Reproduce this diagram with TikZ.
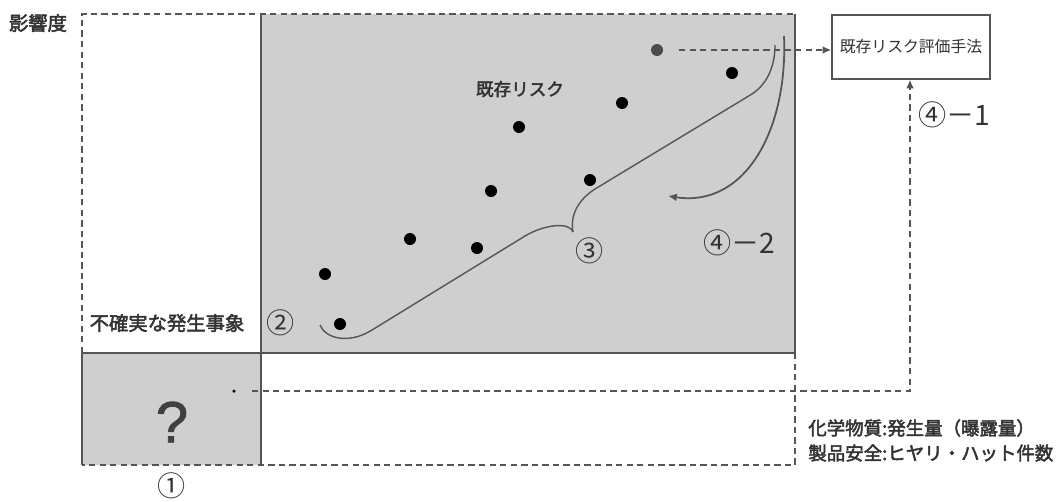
\documentclass[tikz,border=0pt]{standalone}
\usepackage{fontspec}
\setmainfont{Noto Sans CJK JP}
\newfontfamily\medfont{Noto Sans CJK JP}[FakeBold=2.5]
\newfontfamily\qfont{Liberation Sans}[FakeBold=1.5]
\usetikzlibrary{arrows.meta}
\definecolor{fillg}{HTML}{CFCFCF}
\definecolor{lineg}{HTML}{555555}
\definecolor{txt}{HTML}{333333}
\tikzset{
  dashline/.style={draw=lineg, line width=0.9pt, dash pattern=on 3.6pt off 2.4pt},
  solidline/.style={draw=lineg, line width=0.8pt},
  dotnode/.style={circle, fill=black, inner sep=0pt, minimum size=0.24cm},
  lbl/.style={text=txt, inner sep=0pt},
  circnum/.style={text=txt, inner sep=0pt, font=\fontsize{16}{18}\selectfont},
  tip/.style={-{Latex[length=5pt,width=4.5pt]}}
}
\begin{document}
\begin{tikzpicture}[x=0.02cm,y=-0.02cm]
\useasboundingbox (0,0) rectangle (1060,501);
% gray areas
\fill[fillg] (261,14) rectangle (795,353);
\fill[fillg] (82,353) rectangle (261,465);
% solid borders
\draw[solidline] (261,14) -- (261,465);
\draw[solidline] (82,353) -- (795,353) -- (795,14);
\draw[solidline] (82,353) -- (82,465);
% outer dashed frame
\draw[dashline] (82,353) -- (82,14) -- (795,14);
\draw[dashline] (795,353) -- (795,465) -- (82,465);
% labels
\node[lbl, font=\medfont\fontsize{11}{13}\selectfont] (yaxis) at (38,23) {影響度};
\node[lbl, font=\medfont\fontsize{10}{12}\selectfont] (exist) at (520,89) {既存リスク};
\node[lbl, font=\medfont\fontsize{11}{13}\selectfont] (uncert) at (167,323) {不確実な発生事象};
\node[lbl, font=\qfont\fontsize{33}{35}\selectfont, text=black!75] (q) at (172,422) {?};
\node[circnum] (n1) at (172,486) {①};
\node[circnum] (n2) at (281,323) {②};
\node[circnum] (n3) at (590,251) {③};
\node[circnum, anchor=west] (n42) at (703,243) {④－2};
\node[circnum, anchor=west] (n41) at (918,115) {④－1};
\node[lbl, anchor=west, font=\medfont\fontsize{10.5}{12}\selectfont] (t1) at (808,428) {化学物質:発生量（曝露量）};
\node[lbl, anchor=west, font=\medfont\fontsize{10.5}{12}\selectfont] (t2) at (808,453) {製品安全:ヒヤリ・ハット件数};
% method box
\node[draw=lineg, line width=0.8pt, fill=white, minimum width=3.16cm, minimum height=1.28cm, inner sep=0pt, text=txt, font=\fontsize{9}{11}\selectfont] (box) at (911,47) {既存リスク評価手法};
% dots
\node[dotnode, fill=black!70] (d0) at (657,50) {};
\node[dotnode] (d1) at (732,73) {};
\node[dotnode] (d2) at (622,103) {};
\node[dotnode] (d3) at (519,127) {};
\node[dotnode] (d4) at (491,191) {};
\node[dotnode] (d5) at (590,180) {};
\node[dotnode] (d6) at (410,239) {};
\node[dotnode] (d7) at (477,248) {};
\node[dotnode] (d8) at (325,274) {};
\node[dotnode] (d9) at (340,324) {};
\node[circle, fill=black, inner sep=0pt, minimum size=0.07cm] (d10) at (234,391) {};
% dashed connectors
\draw[dashline, tip] (d0) ++(22,0) coordinate (s0) -- (box.west |- s0);
\coordinate (c1) at (910,391);
\draw[dashline, tip] (d10) ++(18,0) coordinate (s1) -- (c1) -- (box.south -| c1);
% braces
\draw[solidline] (320,325) .. controls (325,338) and (348,345) .. (372,330)
  -- (525,236) .. controls (545,224) and (570,222) .. (573,232);
\draw[solidline] (573,232) .. controls (570,215) and (578,200) .. (595,189)
  -- (752,94) .. controls (770,82) and (775,62) .. (775,45);
% curved arrow
\draw[solidline, line width=1pt, tip] (784,36) .. controls (788,130) and (745,208) .. (668,196);
\end{tikzpicture}
\end{document}
